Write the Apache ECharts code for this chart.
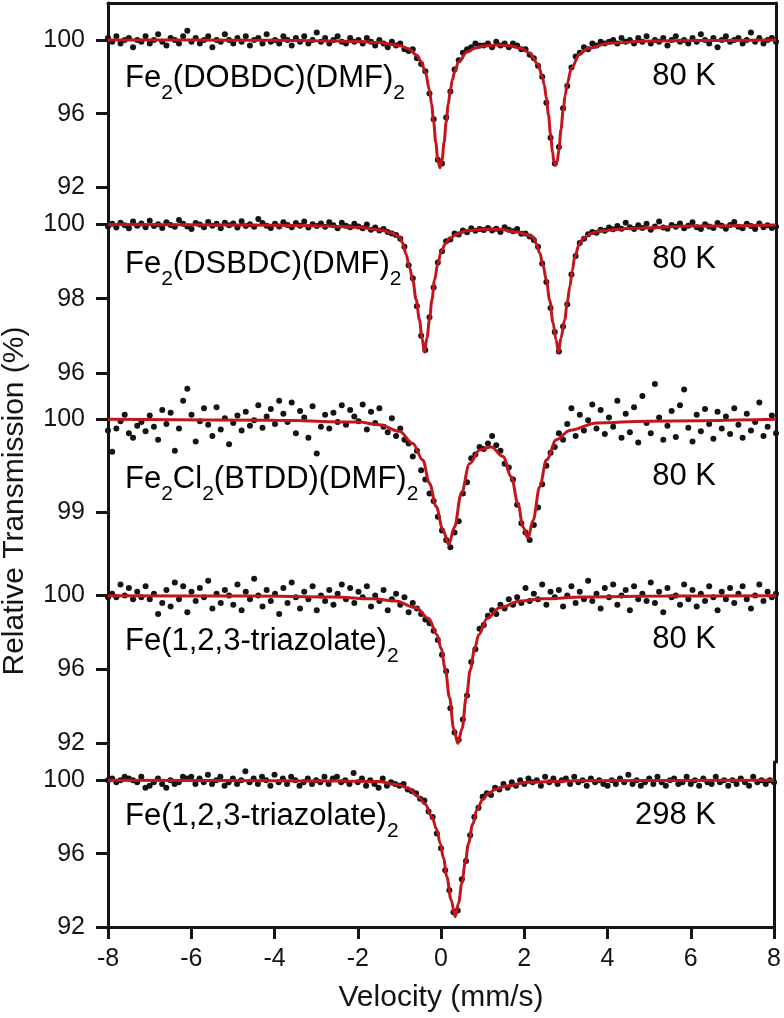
<!DOCTYPE html>
<html>
<head>
<meta charset="utf-8">
<script src="https://cdn.jsdelivr.net/npm/echarts@6/dist/echarts.min.js"></script>
<style>
  html, body { margin: 0; padding: 0; background: #fff; }
  #chart { width: 784px; height: 1018px; }
</style>
</head>
<body>
<div id="chart"></div>
<script>
// velocity channels: -8 .. 8 mm/s, one point every 0.1 mm/s
const velocityStart = -8;
const velocityStep = 0.1;

const dobdcData = [
  100.1, 99.9, 100.2, 99.8, 100.0, 100.1, 99.6, 100.0, 99.9, 100.2,
  99.8, 100.0, 100.3, 99.9, 99.7, 100.1, 100.0, 99.8, 100.2, 100.5,
  99.9, 100.1, 99.8, 100.0, 100.2, 99.6, 100.0, 99.9, 100.3, 100.0,
  99.8, 100.1, 99.9, 100.2, 99.7, 100.0, 100.1, 99.8, 100.3, 99.9,
  100.0, 99.8, 100.2, 100.0, 99.7, 100.1, 99.9, 100.2, 99.8, 100.0,
  100.4, 99.9, 100.1, 99.8, 100.0, 100.2, 99.9, 99.8, 100.1, 99.9,
  100.0, 99.8, 100.1, 99.9, 99.7, 100.0, 99.8, 99.6, 99.9, 99.7,
  99.8, 99.5, 99.4, 99.5, 99.0, 98.7, 98.3, 97.1, 95.7, 93.5,
  93.3, 95.8, 97.2, 98.4, 98.9, 99.3, 99.5, 99.6, 99.8, 99.7,
  99.7, 99.8, 99.6, 99.9, 99.7, 99.8, 99.6, 99.8, 99.7, 99.5,
  99.5, 99.2, 99.0, 98.6, 98.0, 96.6, 94.7, 93.3, 94.2, 96.3,
  97.5, 98.5, 99.1, 99.3, 99.6, 99.5, 99.8, 99.7, 99.9, 99.8,
  99.9, 100.0, 99.8, 100.1, 99.9, 100.0, 99.8, 100.1, 99.9, 100.2,
  99.8, 100.0, 99.9, 100.1, 99.7, 100.0, 100.2, 99.9, 100.0, 99.8,
  100.1, 99.9, 100.3, 100.0, 99.8, 100.1, 99.6, 100.0, 100.2, 99.9,
  100.0, 100.1, 99.8, 100.0, 100.4, 99.9, 100.1, 99.8, 100.0, 100.1,
  99.9
];
const dsbdcData = [
  99.95, 100.02, 99.92, 100.05, 99.98, 99.90, 100.08, 99.97, 100.03, 99.93,
  100.10, 99.96, 100.01, 99.91, 100.06, 99.99, 99.94, 100.12, 100.02, 99.95,
  99.88, 100.04, 100.00, 99.93, 100.07, 99.97, 100.02, 99.90, 100.05, 99.98,
  100.03, 99.92, 100.09, 99.96, 100.01, 99.94, 100.15, 100.04, 99.97, 99.91,
  100.02, 99.95, 100.06, 99.99, 99.93, 100.04, 99.97, 100.08, 99.92, 100.01,
  99.96, 100.03, 99.94, 100.06, 99.98, 99.90, 100.05, 99.97, 99.93, 100.02,
  99.95, 99.90, 100.00, 99.86, 99.92, 99.84, 99.88, 99.80, 99.76, 99.72,
  99.62, 99.40, 98.90, 98.55, 97.80, 97.00, 96.62, 97.50, 98.30, 98.98,
  99.28, 99.55, 99.60, 99.76, 99.73, 99.84, 99.79, 99.90, 99.83, 99.88,
  99.85, 99.91, 99.84, 99.89, 99.80, 99.93, 99.86, 99.82, 99.88, 99.75,
  99.76, 99.68, 99.58, 99.40, 98.95, 98.45, 97.75, 97.10, 96.58, 97.25,
  97.85, 98.65, 99.15, 99.50, 99.62, 99.74, 99.80, 99.78, 99.86, 99.83,
  99.92, 99.87, 99.96, 99.89, 100.05, 99.93, 99.88, 99.98, 99.91, 100.02,
  99.86, 99.95, 100.08, 99.92, 99.89, 99.99, 99.94, 100.03, 99.90, 99.97,
  100.06, 99.93, 99.88, 100.01, 99.95, 99.91, 100.04, 99.97, 99.89, 99.99,
  100.07, 99.94, 99.90, 100.02, 99.96, 99.88, 100.03, 99.93, 99.98, 99.91,
  99.95
];
const btddData = [
  99.88, 99.65, 99.90, 99.98, 100.05, 99.85, 99.80, 99.93, 99.97, 99.87,
  100.04, 99.92, 99.78, 100.10, 99.95, 100.07, 99.66, 99.90, 100.20, 100.33,
  100.05, 99.76, 99.98, 100.12, 99.94, 99.82, 100.13, 99.89, 100.01, 99.73,
  99.96, 100.04, 99.88, 100.08, 99.93, 99.99, 100.15, 99.91, 100.03, 100.11,
  99.95, 100.20, 100.06, 99.97, 100.18, 99.85, 100.09, 100.02, 99.80, 100.14,
  99.63, 99.92, 100.05, 99.90, 100.07, 99.97, 100.15, 99.94, 100.10, 100.03,
  99.98, 100.16, 99.89, 100.08, 99.96, 100.12, 99.92, 99.86, 100.01, 99.82,
  99.90, 99.78, 99.74, 99.60, 99.66, 99.45, 99.35, 99.20, 99.12, 98.95,
  98.80, 98.70, 98.62, 98.78, 98.90, 99.20, 99.32, 99.58, 99.62, 99.70,
  99.68, 99.74, 99.82, 99.72, 99.66, 99.52, 99.48, 99.35, 99.08, 98.88,
  98.78, 98.70, 98.86, 99.05, 99.30, 99.50, 99.64, 99.70, 99.85, 99.78,
  99.95, 100.12, 99.82, 100.05, 99.88, 99.99, 100.16, 99.90, 100.10, 99.84,
  100.02, 99.92, 100.20, 99.80, 100.06, 99.86, 100.13, 99.75, 100.25, 99.96,
  99.85, 100.38, 100.02, 99.78, 99.93, 100.09, 99.81, 100.15, 100.32, 99.91,
  99.76, 100.05, 99.87, 100.11, 99.95, 99.79, 100.08, 99.90, 100.03, 99.84,
  100.12, 99.94, 99.80, 100.06, 99.88, 99.97, 100.18, 99.82, 99.92, 100.04,
  99.85
];
const triazolate80Data = [
  99.9, 100.1, 99.9, 100.6, 100.0, 100.4, 99.8, 100.2, 99.9, 100.5,
  99.8, 100.1, 99.0, 99.6, 100.3, 99.4, 100.7, 99.8, 100.5, 99.1,
  100.2, 99.7, 100.4, 99.9, 100.8, 99.3, 100.1, 99.6, 100.3, 100.0,
  99.5, 100.6, 99.2, 100.2, 99.8, 100.9, 100.0, 99.4, 100.3, 99.7,
  100.1, 99.0, 100.4, 99.6, 100.7, 99.9, 99.3, 100.2, 99.8, 100.5,
  99.2, 100.0, 99.7, 100.3, 99.5, 100.1, 100.6, 99.8, 100.4, 99.6,
  100.2, 99.9, 100.5, 99.4, 100.0, 99.7, 100.3, 99.2, 99.8, 100.1,
  99.5, 99.9, 99.1, 99.6, 99.3, 99.0, 98.7, 98.5, 98.1, 97.6,
  96.8, 95.9, 93.9, 92.6, 92.2, 93.3, 94.6, 96.4, 97.1, 98.2,
  98.4, 98.9, 99.2, 99.0, 99.5, 99.3, 99.8, 99.5, 99.9, 99.6,
  100.4, 99.7, 100.1, 99.8, 100.6, 99.5, 100.2, 99.9, 100.3, 99.4,
  100.0, 100.5, 99.6, 100.2, 99.8, 100.8, 99.7, 100.1, 99.3, 100.4,
  99.9, 100.6, 99.5, 100.0, 100.3, 99.2, 100.5, 99.8, 100.1, 99.7,
  100.7, 99.6, 100.2, 99.1, 100.4, 99.9, 100.0, 99.5, 100.6, 99.8,
  100.3, 99.4, 100.1, 99.7, 100.5, 99.9, 99.2, 100.2, 99.8, 100.4,
  99.6, 100.1, 100.5, 99.8, 99.3, 100.0, 100.6, 99.7, 100.2, 99.9,
  100.1
];
const triazolate298Data = [
  100.0, 100.1, 99.9, 100.0, 100.2, 100.1, 100.0, 99.9, 100.2, 99.6,
  99.7, 99.9, 100.1, 99.8, 99.6, 100.0, 99.8, 99.9, 100.2, 100.1,
  100.2, 99.8, 100.1, 99.9, 100.3, 99.8, 100.0, 100.2, 99.7, 99.9,
  100.1, 99.8, 100.0, 100.5, 99.9, 100.1, 99.8, 100.2, 100.0, 99.7,
  100.3, 99.9, 100.1, 99.8, 100.2, 100.0, 99.7, 99.9, 100.1, 99.8,
  100.0, 99.9, 100.2, 99.8, 100.1, 100.2, 99.9, 100.0, 99.8, 100.4,
  99.9, 100.1, 99.7, 100.0, 99.8, 99.6, 100.1, 99.7, 99.9, 99.8,
  99.7, 99.8, 99.5, 99.4, 99.3, 99.0, 98.9, 98.3, 98.0, 97.1,
  96.3, 95.1, 94.0, 92.8, 92.9, 94.6, 95.6, 97.0, 98.0, 98.5,
  99.1, 99.3, 99.2, 99.6, 99.5, 99.8, 99.6, 99.9, 99.7, 100.0,
  99.8, 100.1, 99.9, 100.0, 99.7, 100.2, 99.9, 100.1, 99.8, 100.0,
  100.1, 99.8, 100.2, 99.9, 100.0, 99.7, 100.1, 99.9, 100.0, 99.8,
  99.7, 100.0, 99.8, 100.1, 99.9, 100.3, 99.8, 100.0, 99.7, 99.9,
  100.1, 99.8, 100.2, 99.9, 99.7, 100.0, 100.1, 99.8, 99.9, 100.2,
  99.8, 100.0, 99.7, 100.1, 99.9, 99.8, 100.2, 99.9, 100.0, 99.7,
  100.0, 99.8, 100.1, 99.9, 99.7, 100.2, 99.9, 100.0, 99.8, 100.0,
  99.9
];

// fitted curves, [velocity, transmission]
const dobdcFit = [
  [-8, 99.99], [-6, 99.99], [-4, 99.98], [-3, 99.96], [-2, 99.92], [-1.5, 99.86], [-1, 99.69],
  [-0.8, 99.52], [-0.6, 99.17], [-0.5, 98.83], [-0.4, 98.27], [-0.3, 97.28], [-0.25, 96.52],
  [-0.2, 95.55], [-0.15, 94.45], [-0.1, 93.48], [-0.05, 93.07], [0, 93.48], [0.05, 94.45],
  [0.1, 95.55], [0.15, 96.52], [0.2, 97.28], [0.25, 97.85], [0.3, 98.27], [0.4, 98.82],
  [0.6, 99.34], [0.8, 99.56], [1, 99.67], [1.33, 99.72], [1.6, 99.69], [1.9, 99.54],
  [2.1, 99.29], [2.3, 98.68], [2.4, 98.02], [2.45, 97.55], [2.5, 96.84], [2.55, 95.95],
  [2.6, 94.89], [2.65, 93.9], [2.68, 93.4], [2.72, 93.2], [2.76, 93.4], [2.8, 94.05],
  [2.85, 95.15], [2.9, 96.15], [2.95, 97.0], [3, 97.64], [3.1, 98.47], [3.3, 99.24],
  [3.5, 99.55], [4, 99.82], [5, 99.94], [6, 99.97], [8, 99.99]
];
const dsbdcFit = [
  [-8, 100.0], [-5, 99.99], [-3, 99.97], [-2, 99.93], [-1.5, 99.86], [-1.2, 99.77],
  [-1.02, 99.67], [-0.94, 99.5], [-0.86, 99.2], [-0.78, 98.85], [-0.7, 98.5], [-0.62, 97.98],
  [-0.54, 97.43], [-0.48, 96.95], [-0.42, 96.56], [-0.36, 96.95], [-0.3, 97.43], [-0.24, 97.98],
  [-0.18, 98.5], [-0.1, 98.95], [-0.02, 99.27], [0.08, 99.48], [0.18, 99.63], [0.38, 99.76],
  [0.58, 99.83], [1.0, 99.87], [1.38, 99.87], [1.8, 99.8], [2.0, 99.74], [2.18, 99.67],
  [2.26, 99.48], [2.34, 99.23], [2.42, 98.9], [2.5, 98.5], [2.58, 97.95], [2.66, 97.35],
  [2.73, 96.9], [2.79, 96.56], [2.85, 96.95], [2.94, 97.43], [3.0, 97.9], [3.06, 98.32],
  [3.12, 98.75], [3.18, 99.13], [3.28, 99.45], [3.38, 99.63], [3.58, 99.76], [3.78, 99.83],
  [4.58, 99.9], [6, 99.96], [8, 99.99]
];
const btddFit = [
  [-8, 100.0], [-4, 99.99], [-2, 99.97], [-1.5, 99.94], [-1.02, 99.87], [-0.7, 99.74],
  [-0.46, 99.56], [-0.3, 99.31], [-0.14, 99.06], [0.02, 98.81], [0.16, 98.65], [0.3, 98.84],
  [0.46, 99.2], [0.66, 99.52], [0.9, 99.67], [1.18, 99.7], [1.46, 99.6], [1.66, 99.38],
  [1.82, 99.09], [1.94, 98.84], [2.06, 98.72], [2.18, 98.91], [2.34, 99.27], [2.5, 99.56],
  [2.74, 99.78], [3.06, 99.88], [3.7, 99.96], [4.9, 99.98], [8, 100.0]
];
const triazolate80Fit = [
  [-8, 99.99], [-4.6, 99.97], [-2.62, 99.92], [-1.62, 99.82], [-1.12, 99.7], [-0.62, 99.34],
  [-0.32, 98.76], [-0.12, 97.88], [-0.02, 97.12], [0.08, 96.0], [0.18, 94.48], [0.28, 92.8],
  [0.38, 92.0], [0.48, 92.8], [0.58, 94.48], [0.68, 96.0], [0.78, 97.12], [0.88, 97.88],
  [1.08, 98.76], [1.38, 99.34], [1.88, 99.7], [2.38, 99.82], [3.38, 99.92], [5.38, 99.97],
  [8, 99.99]
];
const triazolate298Fit = [
  [-8, 100.0], [-4, 99.98], [-2.5, 99.96], [-1.5, 99.93], [-1.02, 99.75], [-0.8, 99.58],
  [-0.54, 99.11], [-0.38, 98.7], [-0.22, 98.02], [-0.1, 97.3], [-0.02, 96.56], [0.06, 95.75],
  [0.14, 94.74], [0.24, 93.5], [0.34, 92.56], [0.42, 93.3], [0.5, 94.38], [0.58, 95.5],
  [0.66, 96.56], [0.76, 97.6], [0.86, 98.38], [1.0, 98.95], [1.14, 99.29], [1.3, 99.5],
  [1.54, 99.69], [2.1, 99.89], [3.3, 99.98], [8, 100.0]
];

const xTicks = [-8, -6, -4, -2, 0, 2, 4, 6, 8];
const dobdcTicks = [100, 96, 92];
const dsbdcTicks = [100, 98, 96];
const btddTicks = [100, 99];
const triazolate80Ticks = [100, 96, 92];
const triazolate298Ticks = [100, 96, 92];

const FONT = "'Liberation Sans', Arial, sans-serif";
const INK = '#141414';
const FIT_RED = '#c3161c';

const panels = [
  { data: dobdcData, fit: dobdcFit, ticks: dobdcTicks, min: 91, max: 102, top: 3, height: 203,
    label: '{m|Fe}{s|2}{m|(DOBDC)(DMF)}{s|2}', temp: '80 K', labelTop: 63, tempTop: 61 },
  { data: dsbdcData, fit: dsbdcFit, ticks: dsbdcTicks, min: 95, max: 100.5, top: 206, height: 204,
    label: '{m|Fe}{s|2}{m|(DSBDC)(DMF)}{s|2}', temp: '80 K', labelTop: 249, tempTop: 244 },
  { data: btddData, fit: btddFit, ticks: btddTicks, min: 98.3, max: 100.1, top: 410, height: 167,
    label: '{m|Fe}{s|2}{m|Cl}{s|2}{m|(BTDD)(DMF)}{s|2}', temp: '80 K', labelTop: 464, tempTop: 461 },
  { data: triazolate80Data, fit: triazolate80Fit, ticks: triazolate80Ticks, min: 91, max: 101, top: 577, height: 185,
    label: '{m|Fe(1,2,3-triazolate)}{s|2}', temp: '80 K', labelTop: 626, tempTop: 624 },
  { data: triazolate298Data, fit: triazolate298Fit, ticks: triazolate298Ticks, min: 92, max: 101, top: 762, height: 165,
    label: '{m|Fe(1,2,3-triazolate)}{s|2}', temp: '298 K', labelTop: 801, tempTop: 800 }
];

const rich = {
  m: { fontFamily: FONT, fontSize: 31, color: INK, lineHeight: 41, verticalAlign: 'top' },
  s: { fontFamily: FONT, fontSize: 21, color: INK, verticalAlign: 'bottom' }
};
const axisLine = { show: true, onZero: false, lineStyle: { color: INK, width: 3 } };
const last = panels.length - 1;

const option = {
  animation: false,
  backgroundColor: '#fff',
  grid: panels.map((p) => ({ left: 108, right: 8, top: p.top, height: p.height })),
  xAxis: panels.map((p, i) => ({
    gridIndex: i,
    type: 'value',
    min: -8,
    max: 8,
    interval: 2,
    show: i === last,
    axisLine: axisLine,
    axisTick: { show: true, length: 12, customValues: xTicks, lineStyle: { color: INK, width: 3 } },
    axisLabel: { customValues: xTicks, fontFamily: FONT, fontSize: 25, color: INK, margin: 20 },
    splitLine: { show: false },
    name: i === last ? 'Velocity (mm/s)' : '',
    nameLocation: 'middle',
    nameGap: 56,
    nameTextStyle: { fontFamily: FONT, fontSize: 30, color: INK }
  })).concat([{
    gridIndex: 0, type: 'value', position: 'top', min: -8, max: 8,
    axisLine: axisLine, axisTick: { show: false }, axisLabel: { show: false }, splitLine: { show: false }
  }]),
  yAxis: panels.map((p, i) => ({
    gridIndex: i,
    type: 'value',
    position: 'left',
    min: p.min,
    max: p.max,
    axisLine: axisLine,
    axisTick: { show: true, length: 12, customValues: p.ticks, lineStyle: { color: INK, width: 3 } },
    axisLabel: { customValues: p.ticks, fontFamily: FONT, fontSize: 25, color: INK, margin: 23 },
    splitLine: { show: false }
  })).concat(panels.map((p, i) => ({
    gridIndex: i, type: 'value', position: 'right', min: p.min, max: p.max,
    axisLine: axisLine, axisTick: { show: false }, axisLabel: { show: false }, splitLine: { show: false }
  }))),
  series: panels.map((p, i) => ({
    type: 'scatter',
    xAxisIndex: i,
    yAxisIndex: i,
    symbolSize: 6,
    clip: false,
    silent: true,
    itemStyle: { color: INK, opacity: 1 },
    data: p.data.map((t, k) => [velocityStart + k * velocityStep, t])
  })).concat(panels.map((p, i) => ({
    type: 'line',
    xAxisIndex: i,
    yAxisIndex: i,
    data: p.fit,
    smooth: 0.35,
    smoothMonotone: 'x',
    showSymbol: false,
    symbol: 'none',
    silent: true,
    z: 3,
    lineStyle: { color: FIT_RED, width: 3 }
  }))),
  graphic: panels.map((p) => ({
    type: 'text', left: 125, top: p.labelTop, silent: true,
    style: { text: p.label, rich: rich }
  })).concat(panels.map((p) => ({
    type: 'text', right: 68, top: p.tempTop, silent: true,
    style: { text: '{m|' + p.temp + '}', rich: rich }
  }))).concat([{
    type: 'text', x: 15, y: 501, rotation: Math.PI / 2, silent: true,
    style: { text: 'Relative Transmission (%)', fontFamily: FONT, fontSize: 30, fill: INK, align: 'center', verticalAlign: 'middle' }
  }])
};

const chart = echarts.init(document.getElementById('chart'), null, { renderer: 'canvas' });
chart.setOption(option);
</script>
</body>
</html>
